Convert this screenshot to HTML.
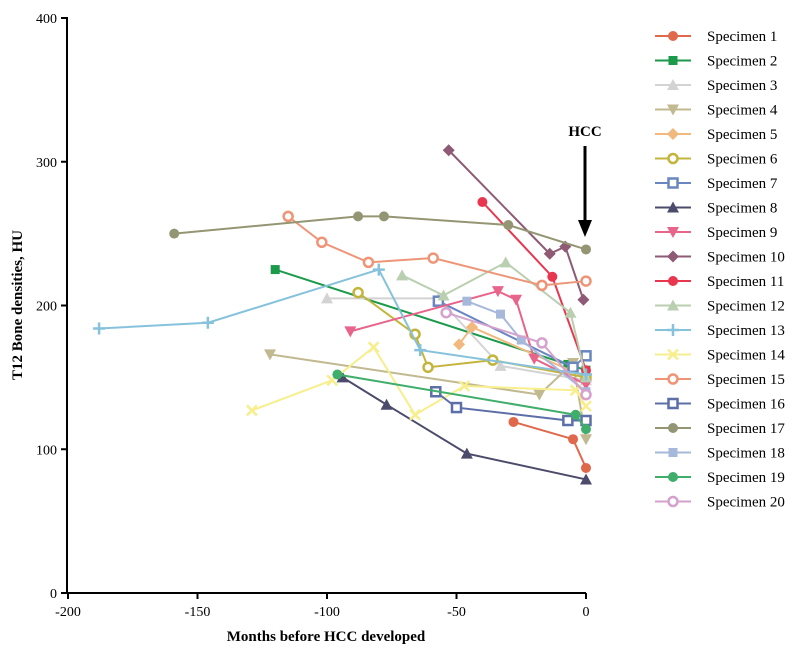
<!DOCTYPE html>
<html><head><meta charset="utf-8"><style>
body{margin:0;background:#fff}
svg text{font-family:"Liberation Serif",serif}
</style></head><body>
<svg id="c" width="797" height="652"></svg>
<script>
const xTicks=[-200,-150,-100,-50,0];
const yTicks=[0,100,200,300,400];
const names=["Specimen 1","Specimen 2","Specimen 3","Specimen 4","Specimen 5","Specimen 6","Specimen 7","Specimen 8","Specimen 9","Specimen 10","Specimen 11","Specimen 12","Specimen 13","Specimen 14","Specimen 15","Specimen 16","Specimen 17","Specimen 18","Specimen 19","Specimen 20"];
const s1=[[-28,119],[-5,107],[0,87]];
const s2=[[-120,225],[-7,159],[0,155]];
const s3=[[-100,205],[-57,205],[-33,158],[0,148]];
const s4=[[-122,166],[-18,138],[-5,160],[0,107]];
const s5=[[-49,173],[-44,185],[0,150]];
const s6=[[-88,209],[-66,180],[-61,157],[-36,162],[0,150]];
const s7=[[-57,203],[-5,157],[0,165]];
const s8=[[-94,150],[-77,131],[-46,97],[0,79]];
const s9=[[-91,182],[-34,210],[-27,204],[-20,163],[0,145]];
const s10=[[-53,308],[-14,236],[-8,241],[-1,204]];
const s11=[[-40,272],[-13,220],[0,155]];
const s12=[[-71,221],[-55,207],[-31,230],[-6,195],[0,150]];
const s13=[[-188,184],[-146,188],[-80,225],[-64,169],[0,152]];
const s14=[[-129,127],[-98,148],[-82,171],[-66,124],[-47,144],[-4,141],[0,130]];
const s15=[[-115,262],[-102,244],[-84,230],[-59,233],[-17,214],[0,217]];
const s16=[[-58,140],[-50,129],[-7,120],[0,120]];
const s17=[[-159,250],[-88,262],[-78,262],[-30,256],[0,239]];
const s18=[[-46,203],[-33,194],[-25,176],[0,140]];
const s19=[[-96,152],[-4,124],[0,114]];
const s20=[[-54,195],[-17,174],[0,138]];
const series=[s1,s2,s3,s4,s5,s6,s7,s8,s9,s10,s11,s12,s13,s14,s15,s16,s17,s18,s19,s20];
const colors=["#e0684b","#1a9a4a","#d3d3d3","#c1b98f","#f2b97f","#c3b53c","#6a86c0","#4c4b6b","#e8648a","#8e5a74","#e8364f","#b9cfb0","#86c2dc","#f7ee8c","#ee9577","#5d6fa8","#949673","#a7b9db","#3fae6a","#d5a1cd"];
const shapes=["circle","square","tri","tridown","diamond","ocircle","osquare","tri","tridown","diamond","star","tri","plus","x","ocircle","osquare","circle","square","circle","ocircle"];
const X=v=>586+v*2.59, Y=v=>593-v*1.4375;
const svg=document.getElementById('c');const NS="http://www.w3.org/2000/svg";
function el(t,a,p){const e=document.createElementNS(NS,t);for(const k in a)e.setAttribute(k,a[k]);(p||svg).appendChild(e);return e;}
function marker(g,shape,cx,cy,c){
 const r=5;let e;
 if(shape=="circle")e=el('circle',{cx,cy,r,fill:c},g);
 else if(shape=="ocircle")e=el('circle',{cx,cy,r:4.5,fill:'#fff',stroke:c,'stroke-width':2.5},g);
 else if(shape=="square")e=el('rect',{x:cx-4.5,y:cy-4.5,width:9,height:9,fill:c},g);
 else if(shape=="osquare")e=el('rect',{x:cx-4.5,y:cy-4.5,width:9,height:9,fill:'#fff',stroke:c,'stroke-width':2.5},g);
 else if(shape=="tri")e=el('polygon',{points:`${cx},${cy-6} ${cx-6},${cy+5} ${cx+6},${cy+5}`,fill:c},g);
 else if(shape=="tridown")e=el('polygon',{points:`${cx},${cy+6} ${cx-6},${cy-5} ${cx+6},${cy-5}`,fill:c},g);
 else if(shape=="diamond")e=el('polygon',{points:`${cx},${cy-6} ${cx+6},${cy} ${cx},${cy+6} ${cx-6},${cy}`,fill:c},g);
 else if(shape=="star"){e=el('circle',{cx,cy,r:5,fill:c},g);}
 else if(shape=="plus")e=el('path',{d:`M${cx-6} ${cy}H${cx+6}M${cx} ${cy-6}V${cy+6}`,stroke:c,'stroke-width':2.5},g);
 else e=el('path',{d:`M${cx-5} ${cy-5}L${cx+5} ${cy+5}M${cx+5} ${cy-5}L${cx-5} ${cy+5}`,stroke:c,'stroke-width':2.5},g);
 
 
}
// axes
const ax=el('path',{d:`M67 17V593H586`,fill:'none',stroke:'#000','stroke-width':2});

xTicks.forEach(v=>{el('line',{x1:X(v),x2:X(v),y1:593,y2:599,stroke:'#000','stroke-width':2});
 const t=el('text',{x:X(v),y:616,'text-anchor':'middle','font-size':14});t.textContent=v;
 });
yTicks.forEach(v=>{el('line',{x1:61,x2:67,y1:Y(v),y2:Y(v),stroke:'#000','stroke-width':2});
 const t=el('text',{x:57,y:Y(v)+5,'text-anchor':'end','font-size':14});t.textContent=v;
 });
let t=el('text',{x:326,y:641,'text-anchor':'middle','font-size':15,'font-weight':'bold'});t.textContent="Months before HCC developed";

t=el('text',{x:0,y:0,'text-anchor':'middle','font-size':15,'font-weight':'bold',transform:'translate(22,305) rotate(-90)'});t.textContent="T12 Bone densities, HU";

series.forEach((s,i)=>{
 const g=el('g',{});
 
 el('polyline',{points:s.map(p=>X(p[0])+','+Y(p[1])).join(' '),fill:'none',stroke:colors[i],'stroke-width':2},g);
 s.forEach(p=>marker(g,shapes[i],X(p[0]),Y(p[1]),colors[i]));
 const ly=36+i*24.5;
 const lg=el('g',{});
 
 el('line',{x1:655,x2:691,y1:ly,y2:ly,stroke:colors[i],'stroke-width':2},lg);
 marker(lg,shapes[i],673,ly,colors[i]);
 const tt=el('text',{x:707,y:ly+5,'font-size':15},lg);tt.textContent=names[i];
});
t=el('text',{x:585,y:136,'text-anchor':'middle','font-size':15,'font-weight':'bold'});t.textContent="HCC";

const ar=el('g',{});
el('line',{x1:585,x2:585,y1:146,y2:222,stroke:'#000','stroke-width':3},ar);
el('polygon',{points:'578,220 592,220 585,237',fill:'#000'},ar);
</script>
</body></html>
